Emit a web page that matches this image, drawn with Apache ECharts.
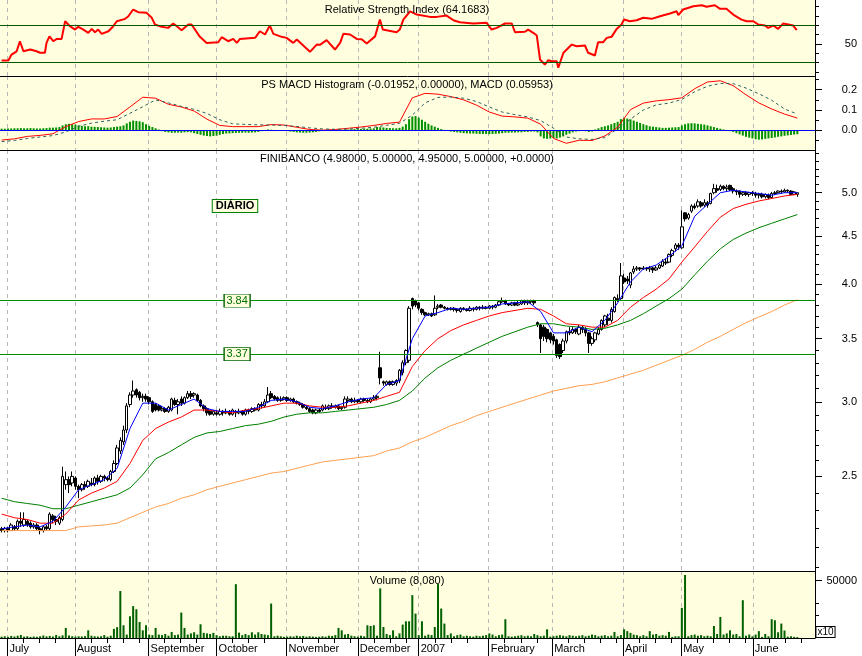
<!DOCTYPE html>
<html><head><meta charset="utf-8">
<script src="https://cdn.jsdelivr.net/npm/echarts@6/dist/echarts.min.js"></script>
<style>html,body{margin:0;padding:0;background:#fff}#c{width:862px;height:656px}</style>
</head><body><div id="c"></div>
<script>
// ---------- DATA ----------
const monthNames = ['July','August','September','October','November','December','2007','February','March','April','May','June'];
const monthTicks = [1.8, 22.8, 45.8, 67.0, 88.8, 111.0, 130.0, 151.8, 171.6, 193.7, 211.8, 234.1];

const opens = [
2.20,2.19,2.20,2.19,2.21,2.20,2.24,2.22,2.24,2.23, 2.21,2.22,2.20,2.19,2.21,2.20,2.27,2.25,2.23,2.25,
2.45,2.48,2.46,2.49,2.44,2.42,2.45,2.44,2.46,2.45, 2.49,2.47,2.50,2.49,2.48,2.53,2.58,2.66,2.72,2.80,
2.98,3.05,3.09,3.07,3.03,3.04,3.03,3.00,2.98,2.97, 2.94,2.95,2.93,2.94,3.01,2.98,3.02,2.99,3.03,3.06,
3.05,3.05,3.01,2.97,2.95,2.93,2.91,2.92,2.91,2.93, 2.92,2.93,2.91,2.93,2.92,2.93,2.91,2.94,2.93,2.95,
2.94,2.98,2.97,3.00,3.06,3.04,3.03,3.01,3.02,3.03, 3.01,3.02,3.00,2.99,2.98,2.96,2.95,2.94,2.92,2.94,
2.94,2.96,2.95,2.97,2.96,2.97,2.95,2.96,3.01,3.02, 3.00,3.01,3.00,3.02,3.01,3.00,3.02,3.03,3.26,3.15,
3.13,3.15,3.13,3.14,3.16,3.22,3.30,3.32,3.86,3.84, 3.82,3.76,3.73,3.71,3.72,3.71,3.78,3.80,3.78,3.77,
3.76,3.77,3.76,3.74,3.77,3.76,3.75,3.77,3.76,3.78, 3.77,3.78,3.77,3.79,3.78,3.80,3.83,3.84,3.81,3.80,
3.82,3.80,3.81,3.84,3.82,3.83,3.84,3.64,3.62,3.60, 3.58,3.55,3.52,3.49,3.45,3.40,3.48,3.56,3.55,3.58,
3.54,3.60,3.58,3.55,3.46,3.49,3.54,3.58,3.62,3.68, 3.66,3.74,3.86,3.86,4.06,4.05,3.99,4.12,4.15,4.16,
4.15,4.16,4.15,4.16,4.14,4.16,4.18,4.22,4.22,4.29, 4.36,4.40,4.37,4.76,4.70,4.78,4.84,4.84,4.88,4.85,
4.88,4.87,5.00,5.05,5.04,5.08,5.05,5.09,5.05,5.02, 5.02,4.98,5.00,4.98,5.00,4.99,4.97,4.98,4.95,4.97,
4.94,4.99,5.00,5.02,5.01,5.03,5.02,4.98,4.98];
const closes = [
2.19,2.20,2.19,2.22,2.20,2.24,2.23,2.25,2.22,2.21, 2.22,2.20,2.19,2.21,2.20,2.28,2.25,2.24,2.26,2.50,
2.48,2.45,2.50,2.44,2.42,2.45,2.44,2.47,2.45,2.49, 2.47,2.50,2.49,2.48,2.53,2.58,2.68,2.73,2.80,2.97,
3.05,3.08,3.05,3.03,3.04,3.02,3.00,2.93,2.94,2.94, 2.95,2.93,2.96,3.02,2.98,3.00,2.99,3.03,3.06,3.04,
3.06,3.01,2.97,2.95,2.92,2.91,2.93,2.91,2.93,2.92, 2.93,2.91,2.94,2.92,2.93,2.91,2.94,2.93,2.95,2.94,
2.98,2.97,3.00,3.05,3.03,3.02,3.01,3.02,3.03,3.01, 3.02,3.00,2.99,2.98,2.96,2.95,2.93,2.92,2.94,2.93,
2.97,2.95,2.97,2.96,2.97,2.95,2.96,3.02,3.02,3.00, 3.01,3.00,3.02,3.01,3.00,3.02,3.03,3.04,3.18,3.14,
3.15,3.13,3.15,3.16,3.24,3.30,3.40,3.77,3.79,3.80, 3.77,3.73,3.71,3.72,3.70,3.77,3.79,3.78,3.77,3.76,
3.77,3.76,3.75,3.77,3.76,3.75,3.77,3.76,3.78,3.77, 3.78,3.77,3.79,3.78,3.80,3.83,3.84,3.81,3.80,3.82,
3.80,3.81,3.84,3.82,3.83,3.84,3.82,3.62,3.50,3.52, 3.50,3.49,3.48,3.36,3.35,3.48,3.56,3.55,3.58,3.56,
3.60,3.58,3.55,3.46,3.50,3.55,3.58,3.66,3.70,3.66, 3.76,3.87,3.85,4.08,4.02,4.03,4.11,4.15,4.16,4.15,
4.16,4.15,4.16,4.14,4.16,4.19,4.23,4.21,4.30,4.34, 4.40,4.38,4.60,4.69,4.74,4.84,4.82,4.89,4.84,4.88,
4.85,4.99,5.05,5.03,5.08,5.05,5.07,5.04,5.02,5.01, 4.98,5.00,4.98,5.00,4.99,4.97,4.98,4.95,4.98,4.94,
4.99,5.00,5.02,5.01,5.03,5.02,4.98,5.01,5.00];
const lows = [
2.18,2.18,2.18,2.19,2.19,2.19,2.21,2.21,2.21,2.20, 2.20,2.19,2.17,2.18,2.19,2.19,2.23,2.22,2.22,2.24,
2.42,2.40,2.44,2.42,2.37,2.41,2.42,2.43,2.44,2.44, 2.45,2.46,2.47,2.47,2.47,2.52,2.57,2.64,2.70,2.78,
2.96,3.03,3.03,3.01,3.00,3.00,2.98,2.92,2.93,2.93, 2.93,2.92,2.92,2.93,2.97,2.91,2.97,2.98,3.02,3.02,
3.03,3.00,2.96,2.93,2.90,2.90,2.90,2.90,2.90,2.90, 2.91,2.90,2.90,2.89,2.91,2.90,2.90,2.91,2.92,2.93,
2.93,2.95,2.96,2.99,3.02,3.01,3.00,3.00,3.01,3.00, 3.00,2.99,2.98,2.97,2.95,2.94,2.92,2.91,2.91,2.92,
2.93,2.94,2.94,2.95,2.95,2.94,2.94,2.95,2.99,2.99, 2.99,2.99,2.99,3.00,2.99,2.99,3.01,3.01,3.13,3.12,
3.12,3.12,3.12,3.12,3.14,3.20,3.28,3.30,3.76,3.78, 3.75,3.71,3.70,3.70,3.69,3.70,3.76,3.77,3.76,3.75,
3.75,3.74,3.73,3.73,3.75,3.74,3.74,3.74,3.75,3.75, 3.76,3.76,3.76,3.76,3.77,3.79,3.82,3.80,3.79,3.79,
3.79,3.79,3.80,3.80,3.80,3.81,3.80,3.60,3.38,3.48, 3.47,3.46,3.45,3.34,3.33,3.38,3.46,3.53,3.54,3.54,
3.53,3.55,3.52,3.38,3.44,3.47,3.53,3.57,3.60,3.62, 3.64,3.73,3.83,3.85,4.00,4.00,3.96,4.10,4.13,4.13,
4.14,4.13,4.12,4.11,4.13,4.15,4.17,4.19,4.21,4.27, 4.33,4.35,4.36,4.66,4.68,4.76,4.80,4.82,4.82,4.83,
4.82,4.86,4.98,5.00,5.02,5.03,5.02,5.02,4.99,4.97, 4.94,4.96,4.96,4.95,4.96,4.94,4.93,4.93,4.93,4.92,
4.93,4.97,4.99,4.99,5.00,5.00,4.97,4.97,4.95];
const highs = [
2.21,2.21,2.21,2.23,2.22,2.25,2.29,2.29,2.25,2.24, 2.23,2.23,2.21,2.22,2.22,2.29,2.28,2.27,2.27,2.56,
2.53,2.50,2.53,2.50,2.45,2.46,2.47,2.48,2.49,2.50, 2.51,2.51,2.51,2.50,2.54,2.60,2.70,2.75,2.83,2.99,
3.07,3.16,3.10,3.08,3.06,3.06,3.04,3.01,2.99,2.98, 2.97,2.96,2.97,3.03,3.03,3.02,3.04,3.04,3.08,3.08,
3.07,3.06,3.02,2.98,2.96,2.94,2.94,2.94,2.95,2.94, 2.95,2.94,2.95,2.94,2.95,2.94,2.95,2.95,2.96,2.96,
2.99,3.00,3.02,3.11,3.08,3.05,3.04,3.04,3.04,3.04, 3.03,3.03,3.01,3.00,2.99,2.97,2.96,2.95,2.95,2.95,
2.98,2.98,2.98,2.99,2.98,2.98,2.97,3.04,3.04,3.03, 3.03,3.02,3.03,3.03,3.02,3.03,3.05,3.05,3.39,3.16,
3.16,3.16,3.16,3.17,3.25,3.32,3.41,3.79,3.87,3.85, 3.83,3.77,3.74,3.73,3.73,3.89,3.81,3.81,3.79,3.78,
3.78,3.78,3.77,3.78,3.78,3.77,3.79,3.78,3.79,3.79, 3.80,3.79,3.80,3.80,3.81,3.84,3.87,3.85,3.82,3.83,
3.83,3.84,3.85,3.85,3.85,3.85,3.85,3.65,3.63,3.62, 3.59,3.56,3.54,3.50,3.46,3.50,3.57,3.60,3.60,3.59,
3.62,3.61,3.60,3.56,3.52,3.56,3.60,3.67,3.71,3.72, 3.78,3.88,3.90,4.21,4.10,4.08,4.12,4.18,4.18,4.17,
4.18,4.17,4.18,4.17,4.18,4.20,4.25,4.26,4.31,4.36, 4.42,4.42,4.79,4.77,4.76,4.86,4.87,4.92,4.90,4.92,
4.90,5.00,5.11,5.10,5.10,5.09,5.10,5.10,5.07,5.04, 5.03,5.02,5.02,5.01,5.02,5.01,5.00,5.00,4.99,4.99,
5.01,5.02,5.03,5.04,5.05,5.04,5.03,5.02,5.00];

const volumes = [
1200,1500,1000,1800,1300,2000,2600,1200,1500,1000, 1300,1100,1500,2200,1400,1800,1300,2600,1500,2300,
8800,2200,1500,1200,1500,1300,1600,6700,2000,1500, 1300,1500,2500,1200,2000,8000,9500,41000,11100,3000,
19000,27800,25100,14000,6700,11100,3000,2500,8800,3000, 2500,3500,2000,5300,2500,3000,22200,8800,3000,4000,
5000,3000,12000,4500,4000,3500,4500,2500,1500,2000, 2000,1500,1500,47000,4700,2500,3500,2500,5000,3000,
5000,3500,3000,2500,30100,1500,2000,1500,1000,1200, 1500,1300,2000,1400,1800,1200,1500,1300,1000,1200,
1500,1200,2000,1800,2500,8800,6700,3000,3500,2000, 1500,1200,2000,1500,11100,10500,11100,2000,43300,9600,
3500,2500,6700,1500,4000,11700,14600,14600,37400,21300, 2500,14600,2000,3000,2500,9600,47100,25700,12600,2500,
4000,1500,2500,3000,1500,2000,1500,1200,2000,1500, 2000,2500,4000,3000,1500,2500,3000,16400,1500,1200,
1500,2000,2500,1500,2000,1500,3500,2500,1500,2000, 7600,1200,1500,2000,2500,2000,1500,2500,2000,1500,
2000,2500,1500,2000,3000,2500,1500,2000,2500,1500, 2000,5300,1500,2500,7600,6000,4500,3000,2500,1500,
2500,1500,6000,3000,3500,2000,2500,2000,5300,1000, 1500,1500,26300,55000,1500,2500,3000,2000,2500,1500,
2000,1500,10500,3500,18400,3000,4000,6700,3000,3500, 1500,33000,2000,3000,1500,3000,6000,1000,3500,1500,
16400,15500,5000,12600,6500,1200,1500,1000,800];

const macdHist = [
0.008,0.008,0.009,0.009,0.010,0.010,0.011,0.010,0.010,0.011, 0.010,0.009,0.009,0.010,0.011,0.013,0.013,0.014,0.016,0.024,
0.030,0.032,0.030,0.028,0.024,0.022,0.020,0.020,0.018,0.017, 0.016,0.015,0.014,0.013,0.014,0.016,0.018,0.020,0.024,0.034,
0.042,0.048,0.046,0.044,0.040,0.030,0.022,0.016,0.010,0.004, -0.004,-0.008,-0.010,-0.012,-0.012,-0.011,-0.012,-0.010,-0.009,-0.010,
-0.014,-0.018,-0.022,-0.026,-0.028,-0.030,-0.028,-0.026,-0.022,-0.018, -0.016,-0.015,-0.014,-0.013,-0.012,-0.012,-0.011,-0.012,-0.011,-0.010,
-0.008,-0.004,0.000,0.004,0.003,0.002,0.001,0.000,-0.002,-0.004, -0.006,-0.008,-0.010,-0.011,-0.012,-0.012,-0.011,-0.010,-0.008,-0.005,
-0.003,-0.002,-0.002,-0.001,0.001,0.002,0.003,0.004,0.004,0.005, 0.006,0.006,0.007,0.008,0.008,0.009,0.010,0.016,0.015,0.014,
0.012,0.011,0.010,0.010,0.012,0.018,0.030,0.055,0.068,0.070, 0.062,0.052,0.042,0.032,0.024,0.018,0.012,0.006,0.002,-0.002,
-0.006,-0.008,-0.010,-0.012,-0.014,-0.015,-0.016,-0.016,-0.017,-0.018, -0.018,-0.018,-0.019,-0.018,-0.017,-0.016,-0.014,-0.012,-0.012,-0.011,
-0.011,-0.010,-0.010,-0.008,-0.008,-0.006,-0.006,-0.010,-0.030,-0.040, -0.042,-0.040,-0.038,-0.040,-0.036,-0.030,-0.022,-0.016,-0.010,-0.006,
-0.004,-0.003,-0.004,-0.008,-0.006,0.004,0.010,0.016,0.020,0.024, 0.030,0.036,0.042,0.055,0.060,0.058,0.054,0.048,0.042,0.036,
0.030,0.025,0.020,0.018,0.016,0.014,0.012,0.012,0.013,0.014, 0.015,0.016,0.024,0.030,0.034,0.035,0.034,0.032,0.030,0.028,
0.024,0.020,0.016,0.012,0.008,0.004,0.000,-0.004,-0.008,-0.014, -0.020,-0.026,-0.032,-0.036,-0.040,-0.044,-0.046,-0.045,-0.042,-0.040,
-0.038,-0.035,-0.032,-0.030,-0.027,-0.025,-0.023,-0.021,-0.0195];

// indicator lines sampled every 4 trading days
const sampleDays = [0,4,8,12,16,20,24,28,32,36,40,44,48,52,56,60,64,68,72,76,80,84,88,92,96,100,104,108,112,116,120,124,128,132,136,140,144,148,152,156,160,164,168,172,176,180,184,188,192,196,200,204,208,212,216,220,224,228,232,236,240,244,248];
const maFast = [2.20,2.21,2.22,2.21,2.24,2.32,2.42,2.45,2.48,2.55, 2.81,2.99,2.99,2.94,2.98,3.02,2.95,2.93,2.93,2.93, 2.96,3.01,3.02,3.00,2.96,2.95,2.97,3.00,3.02,3.03, 3.13,3.16,3.50,3.70,3.73,3.77,3.76,3.77,3.78,3.81, 3.82,3.83,3.74,3.55,3.55,3.60,3.56,3.66,3.82,4.02, 4.15,4.19,4.28,4.39,4.72,4.86,5.00,5.03,5.01,4.99, 4.97,5.00,5.00];
const maMid = [2.28,2.26,2.25,2.23,2.23,2.28,2.36,2.40,2.43,2.47, 2.58,2.73,2.81,2.855,2.89,2.94,2.94,2.93,2.92,2.94, 2.95,2.97,2.99,2.99,2.97,2.96,2.96,2.97,2.99,3.01, 3.04,3.07,3.27,3.40,3.50,3.57,3.62,3.66,3.70,3.73, 3.75,3.77,3.76,3.70,3.63,3.62,3.60,3.60,3.66,3.78, 3.87,3.95,4.05,4.22,4.38,4.55,4.71,4.81,4.86,4.90, 4.93,4.96,4.98];
const maSlow = [2.37,2.35,2.34,2.33,2.31,2.31,2.33,2.35,2.37,2.39, 2.43,2.51,2.61,2.65,2.70,2.75,2.78,2.79,2.81,2.83, 2.84,2.86,2.89,2.91,2.92,2.92,2.93,2.94,2.95,2.96, 2.98,3.01,3.08,3.18,3.26,3.32,3.37,3.42,3.47,3.52, 3.56,3.60,3.63,3.63,3.61,3.60,3.58,3.59,3.62,3.66, 3.72,3.79,3.86,3.95,4.09,4.23,4.36,4.46,4.53,4.59, 4.64,4.69,4.74];
const maLong = [2.19,2.19,2.19,2.19,2.19,2.19,2.21,2.215,2.22,2.23, 2.26,2.29,2.32,2.34,2.37,2.39,2.42,2.44,2.46,2.48, 2.50,2.52,2.53,2.55,2.57,2.59,2.60,2.61,2.62,2.63, 2.66,2.68,2.72,2.75,2.79,2.83,2.86,2.90,2.93,2.96, 2.99,3.02,3.05,3.08,3.10,3.12,3.13,3.15,3.18,3.21, 3.24,3.28,3.32,3.36,3.41,3.47,3.52,3.58,3.64,3.69, 3.74,3.80,3.85];
const macdLine = [-0.048,-0.042,-0.030,-0.025,-0.017,0.018,0.043,0.056,0.056,0.068, 0.115,0.163,0.158,0.128,0.115,0.095,0.055,0.024,0.018,0.018, 0.018,0.028,0.026,0.015,0.004,0.001,0.004,0.010,0.016,0.024, 0.034,0.040,0.160,0.182,0.178,0.166,0.150,0.124,0.090,0.070, 0.066,0.060,0.030,-0.040,-0.064,-0.049,-0.050,-0.028,0.015,0.102, 0.134,0.145,0.151,0.160,0.205,0.238,0.244,0.220,0.175,0.135, 0.105,0.080,0.060];
const signalLine = [-0.056,-0.050,-0.040,-0.033,-0.026,-0.008,0.020,0.035,0.045,0.052, 0.084,0.116,0.150,0.135,0.118,0.103,0.083,0.052,0.032,0.029, 0.027,0.026,0.024,0.019,0.012,0.007,0.005,0.006,0.010,0.015, 0.025,0.034,0.075,0.135,0.162,0.164,0.158,0.142,0.115,0.090, 0.077,0.066,0.048,0.010,-0.033,-0.042,-0.045,-0.036,0.008,0.055, 0.100,0.125,0.134,0.152,0.190,0.217,0.231,0.230,0.208,0.180, 0.148,0.105,0.080];

const rsiDays = [0,2.1,3.1,4.7,5.7,6.8,8.9,10.9,12,13.5,14,14.9,16.1,17.2,18.7,19.8,21.3,22.9,23.9,25.5,27,28.1,29.1,30.1,31.2,33.3,34.8,35.9,38.5,39.5,41,42.6,45.2,46.8,47.8,49.9,51.9,53.5,54.6,56.1,58.2,59.2,61.8,63.9,67.5,68.6,70.6,72.2,73.3,74.3,79,80.5,82.1,83.6,84.7,87.3,88.8,90.9,92,96.1,98.2,99.2,101.3,103.9,105.5,106.5,108.6,110.7,112.2,113.8,116.4,116.9,117.9,118.8,123.1,124.1,125.2,127.3,129.4,133.5,135.6,138.7,140.8,142.8,147,151.2,152.7,154.3,156.9,159,160,163.1,164.1,165.7,166.8,167.8,169.3,170.4,171.4,173,173.5,174.1,175.1,177.7,179.2,181.8,182.8,184.9,185.9,187.5,188.6,190.1,191.7,193.2,194,195.8,197.9,200,202.6,205.2,208.3,210.4,210.9,212.4,215.6,218.2,219.7,222.3,223.9,225.9,228,230.6,232.2,234.3,235.8,237.9,238.9,240.5,242,243.6,245.2,246.7,247.8];
const rsiVals = [32.1,32.1,38.5,42,52.8,42,43.9,42,40.4,40.4,51,58,52.8,55.3,55.3,74.2,68.9,65.3,68.2,65.3,61.8,66,62.4,65.3,60.7,63.5,68.9,74.2,76.8,79.6,86.8,83.9,83.2,77.9,70.7,68.2,67.1,71.8,68.9,64.6,70.7,70.7,57.5,51,51.7,57.1,52.8,55.3,51,55.3,56.4,63.5,60,69.6,60.7,57.5,56.4,51,54.6,41.4,49.2,48.9,53.9,43.9,51,60.7,60,55.3,55,50.3,58,60,76,65.3,62.4,65.3,76,84.9,81.4,78.9,78.9,80.3,75.3,73.2,71.8,72.5,65.3,67.1,71.8,71.8,62.4,62.9,65.3,61.8,58.9,33.2,27.8,32.4,31.3,31.4,24.3,26,40.4,49.2,47.4,48.2,40.4,37.5,51.7,51.7,56.4,57.5,66,70.7,76,74.2,75.3,77.9,76.8,79.6,82.5,84.9,80.7,86.8,90.3,91.4,89.7,91.4,87.5,87.5,81.4,76,74.2,74.2,70.7,69.6,67.1,69.6,66,71.8,70.7,69.6,64.6];

const rsiLevels = [30, 70];
const priceLevels = [3.84, 3.37];

const rsiMajor = [50], rsiMinor = [20,30,40,60,70,80,90];
const macdMajor = [0, 0.1, 0.2], macdMinor = [-0.05, 0.05, 0.15, 0.25];
const priceMajor = [2.5, 3.0, 3.5, 4.0, 4.5, 5.0];
const priceMinor = [2.0,2.1,2.2,2.3,2.4,2.6,2.7,2.8,2.9,3.1,3.2,3.3,3.4,3.6,3.7,3.8,3.9,4.1,4.2,4.3,4.4,4.6,4.7,4.8,4.9,5.1,5.2,5.3,5.4,5.5];
const volMajor = [50000], volMinor = [10000, 20000, 30000];

const titles = {
  rsi: 'Relative Strength Index (64.1683)',
  macd: 'PS MACD Histogram (-0.01952, 0.00000), MACD (0.05953)',
  price: 'FINIBANCO (4.98000, 5.00000, 4.95000, 5.00000, +0.0000)',
  vol: 'Volume (8,080)'
};

// ---------- CHART ----------
const FONT = '"Liberation Sans", Arial, sans-serif';
const XMIN = -0.5, XMAX = 253.5;
const PANEL = '#ffffe0';
const days = closes.map((_, i) => i);
const pairs = (xs, ys) => xs.map((x, k) => [x, ys[k]]);
const weekTicks = [];
for (let m = 0; m < monthTicks.length; m++) {
  const end = m + 1 < monthTicks.length ? monthTicks[m + 1] : XMAX;
  for (let t = monthTicks[m] + 5; t < end - 2; t += 5) weekTicks.push(t);
}

const grids = [
  {left: 0, top: 0, width: 815, height: 76, show: true, backgroundColor: PANEL, borderWidth: 0},
  {left: 0, top: 76, width: 815, height: 74, show: true, backgroundColor: PANEL, borderWidth: 0},
  {left: 0, top: 150, width: 815, height: 421, show: true, backgroundColor: '#ffffff', borderWidth: 0},
  {left: 0, top: 571, width: 815, height: 67, show: true, backgroundColor: PANEL, borderWidth: 0}
];

function xAx(g) {
  return {
    type: 'value', gridIndex: g, min: XMIN, max: XMAX, position: 'bottom',
    axisLine: {show: true, onZero: false, lineStyle: {color: '#000', width: 1}},
    axisTick: {show: false, customValues: monthTicks},
    axisLabel: {show: false},
    splitLine: {show: true, lineStyle: {color: '#b8b8b8', width: 1, type: [4, 4]}}
  };
}
const xAxes = [xAx(0), xAx(1), xAx(2), xAx(3)];
xAxes[3].axisTick = {show: true, customValues: monthTicks, length: 18, lineStyle: {color: '#000'}};
xAxes[3].axisLabel = {
  show: true, customValues: monthTicks, align: 'left', margin: 5, padding: [0, 0, 0, 2],
  color: '#000', fontSize: 11, fontFamily: FONT,
  formatter: function (v) {
    let best = 0;
    monthTicks.forEach((t, i) => { if (Math.abs(t - v) < Math.abs(monthTicks[best] - v)) best = i; });
    return monthNames[best];
  }
};
xAxes.push({
  type: 'value', gridIndex: 3, min: XMIN, max: XMAX, position: 'bottom',
  axisLine: {show: false, onZero: false},
  axisTick: {show: true, customValues: weekTicks, length: 5, lineStyle: {color: '#000'}},
  axisLabel: {show: false}, splitLine: {show: false}
});

function yMajor(g, type, min, max, vals, fmt) {
  return {
    type: type, gridIndex: g, min: min, max: max, position: 'right',
    axisLine: {show: true, onZero: false, lineStyle: {color: '#000', width: 1}},
    axisTick: {show: true, length: 7, customValues: vals, lineStyle: {color: '#000'}},
    axisLabel: {show: true, customValues: vals, formatter: fmt, align: 'right', margin: 42,
      color: '#000', fontSize: 11, fontFamily: FONT},
    splitLine: {show: false}
  };
}
function yMinor(g, type, min, max, vals) {
  return {
    type: type, gridIndex: g, min: min, max: max, position: 'right',
    axisLine: {show: false, onZero: false},
    axisTick: {show: true, length: 4, customValues: vals, lineStyle: {color: '#000'}},
    axisLabel: {show: false}, splitLine: {show: false}
  };
}
const yAxes = [
  yMajor(0, 'value', 15.5, 97, rsiMajor, v => String(v)),
  yMinor(0, 'value', 15.5, 97, rsiMinor),
  yMajor(1, 'value', -0.097, 0.2675, macdMajor, v => v.toFixed(1)),
  yMinor(1, 'value', -0.097, 0.2675, macdMinor),
  yMajor(2, 'log', 1.984, 5.55, priceMajor, v => v.toFixed(1)),
  yMinor(2, 'log', 1.984, 5.55, priceMinor),
  yMajor(3, 'value', 0, 58500, volMajor, v => String(v)),
  yMinor(3, 'value', 0, 58500, volMinor)
];

function line(name, xi, yi, data, color, width, type, z) {
  return {name, type: 'line', xAxisIndex: xi, yAxisIndex: yi, data, symbol: 'none', showSymbol: false,
    silent: true, z: z || 3, lineStyle: {color, width, type: type || 'solid'}, animation: false};
}

const series = [
  // RSI
  Object.assign(line('RSI', 0, 0, pairs(rsiDays, rsiVals), '#ff0000', 2), {
    markLine: {silent: true, symbol: 'none', label: {show: false}, animation: false,
      lineStyle: {color: '#005a00', width: 1, type: 'solid'},
      data: rsiLevels.map(v => ({yAxis: v}))}
  }),
  // MACD histogram
  {type: 'bar', xAxisIndex: 1, yAxisIndex: 2, data: pairs(days, macdHist), barWidth: 2, silent: true,
    itemStyle: {color: '#009000'}, animation: false, z: 2,
    markLine: {silent: true, symbol: 'none', label: {show: false}, animation: false,
      lineStyle: {color: '#0000ff', width: 1.2, type: 'solid'}, data: [{yAxis: 0}]}},
  line('MACD', 1, 2, pairs(sampleDays, macdLine), '#ff0000', 1),
  line('Signal', 1, 2, pairs(sampleDays, signalLine), '#2f5f5f', 1, [3, 3]),
  // Price
  {type: 'candlestick', xAxisIndex: 2, yAxisIndex: 4, barWidth: 3, silent: true, animation: false, z: 2,
    data: days.map(i => [i, opens[i], closes[i], lows[i], highs[i]]),
    itemStyle: {color: '#ffffff', color0: '#000000', borderColor: '#000000', borderColor0: '#000000', borderWidth: 1},
    markLine: {silent: true, symbol: 'none', label: {show: false}, animation: false,
      lineStyle: {color: '#009000', width: 1, type: 'solid'},
      data: priceLevels.map(v => ({yAxis: v}))},
    markPoint: {silent: true, animation: false, symbol: 'rect', symbolSize: [26, 13],
      itemStyle: {color: '#ffffe0', borderColor: '#006400', borderWidth: 1},
      label: {show: true, position: 'inside', color: '#007000', fontSize: 11, fontFamily: FONT},
      data: priceLevels.map(v => ({coord: [73.4, v], value: v.toFixed(2)}))}
  },
  line('MA long', 2, 4, pairs(sampleDays, maLong), '#ffa050', 1),
  line('MA slow', 2, 4, pairs(sampleDays, maSlow), '#008000', 1),
  line('MA mid', 2, 4, pairs(sampleDays, maMid), '#ff0000', 1),
  line('MA fast', 2, 4, pairs(sampleDays, maFast), '#0000ff', 1),
  // Volume
  {type: 'bar', xAxisIndex: 3, yAxisIndex: 6, data: pairs(days, volumes), barWidth: 2, silent: true,
    itemStyle: {color: '#006000'}, animation: false}
];

function txt(text, x, y, extra) {
  return {type: 'text', x, y, z: 100, silent: true,
    style: Object.assign({text, fill: '#000', font: '11px ' + FONT,
      textAlign: 'center', textVerticalAlign: 'middle', align: 'center', verticalAlign: 'middle'}, extra || {})};
}
const graphics = [
  txt(titles.rsi, 407, 10),
  txt(titles.macd, 407, 85),
  txt(titles.price, 407, 159),
  txt(titles.vol, 407, 581),
  txt('DIÁRIO', 235, 206, {font: 'bold 11px ' + FONT, backgroundColor: '#ffffe0', borderColor: '#008000',
    borderWidth: 1, padding: [1, 3, 0, 3]}),
  txt('x10', 825.5, 632, {font: '10px ' + FONT, backgroundColor: '#ffffff', borderColor: '#000',
    borderWidth: 1, padding: [0, 1, 0, 1]})
];

const chart = echarts.init(document.getElementById('c'), null, {renderer: 'canvas'});
chart.setOption({
  animation: false,
  backgroundColor: '#ffffff',
  textStyle: {fontFamily: FONT},
  grid: grids,
  xAxis: xAxes,
  yAxis: yAxes,
  series: series,
  graphic: graphics
});
</script>
</body></html>
